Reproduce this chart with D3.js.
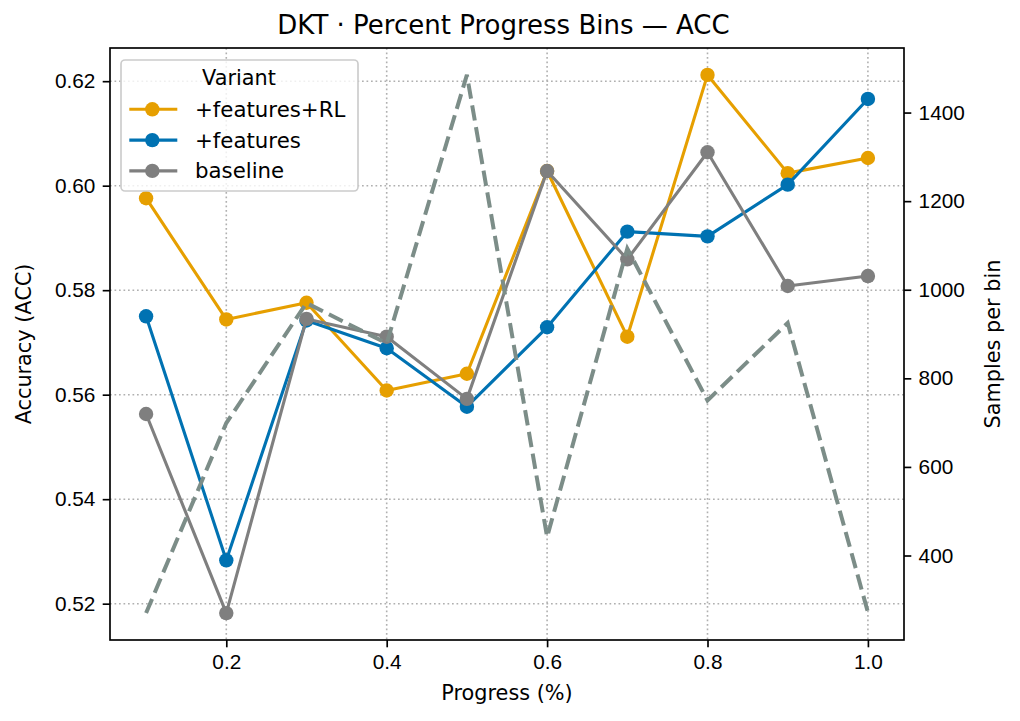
<!DOCTYPE html>
<html>
<head>
<meta charset="utf-8">
<script src="https://cdn.jsdelivr.net/npm/d3@7"></script>
<style>
  body { margin: 0; background: #fff; }
  svg { font-family: "DejaVu Sans", sans-serif; }
</style>
</head>
<body>
<svg id="chart"></svg>
<script>
// Data
const progress = [0.1, 0.2, 0.3, 0.4, 0.5, 0.6, 0.7, 0.8, 0.9, 1.0];
const accFeaturesRL = [0.5976, 0.5744, 0.5776, 0.5608, 0.5640, 0.6028, 0.5711, 0.6212, 0.6024, 0.6053];
const accFeatures = [0.5750, 0.5283, 0.5742, 0.5689, 0.5577, 0.5729, 0.5912, 0.5903, 0.6002, 0.6166];
const accBaseline = [0.5563, 0.5182, 0.5745, 0.5711, 0.5592, 0.6028, 0.5859, 0.6064, 0.5808, 0.5827];
const samplesPerBin = [270, 699, 970, 879, 1485, 442, 1093, 750, 925, 272];

const variantNames = ["+features+RL", "+features", "baseline"];
const variantColors = ["#E69F00", "#0072B2", "#7F7F7F"];

const xTicks = [0.2, 0.4, 0.6, 0.8, 1.0];
const yTicks = [0.52, 0.54, 0.56, 0.58, 0.60, 0.62];
const y2Ticks = [400, 600, 800, 1000, 1200, 1400];

const W = 1020, H = 721;
const margin = { top: 48, right: 116, bottom: 81, left: 110 };
const width = W - margin.left - margin.right;
const height = H - margin.top - margin.bottom;

const svg = d3.select("#chart").attr("width", W).attr("height", H);
const g = svg.append("g").attr("transform", "translate(" + margin.left + "," + margin.top + ")");

// matplotlib-like 5% margins
function padded(vals) {
    const lo = d3.min(vals), hi = d3.max(vals), pad = (hi - lo) * 0.05;
    return [lo - pad, hi + pad];
}

const x = d3.scaleLinear().domain(padded(progress)).range([0, width]);
const y = d3.scaleLinear()
    .domain(padded(accFeaturesRL.concat(accFeatures, accBaseline)))
    .range([height, 0]);
const y2 = d3.scaleLinear().domain(padded(samplesPerBin)).range([height, 0]);

const series = [accFeaturesRL, accFeatures, accBaseline];

// Grid (dotted)
const grid = g.append("g").attr("stroke", "#b0b0b0").attr("stroke-width", 1.6)
    .attr("stroke-dasharray", "1.7,2.8");
grid.selectAll(".gx").data(xTicks).enter().append("line")
    .attr("x1", d => x(d)).attr("x2", d => x(d)).attr("y1", 0).attr("y2", height);
grid.selectAll(".gy").data(yTicks).enter().append("line")
    .attr("x1", 0).attr("x2", width).attr("y1", d => y(d)).attr("y2", d => y(d));

// Lines with markers
const line = d3.line().x((d, i) => x(progress[i])).y(d => y(d));
series.forEach((s, k) => {
    g.append("path").datum(s)
        .attr("fill", "none")
        .attr("stroke", variantColors[k])
        .attr("stroke-width", 3.1)
        .attr("stroke-linejoin", "round")
        .attr("d", line);
    g.selectAll(".m" + k).data(s).enter().append("circle")
        .attr("cx", (d, i) => x(progress[i]))
        .attr("cy", d => y(d))
        .attr("r", 7.2)
        .attr("fill", variantColors[k]);
});

// Samples per bin (twin axis, dashed)
const line2 = d3.line().x((d, i) => x(progress[i])).y(d => y2(d));
g.append("path").datum(samplesPerBin)
    .attr("fill", "none")
    .attr("stroke", "#7c8d88")
    .attr("stroke-width", 4)
    .attr("stroke-dasharray", "15.4,6.7")
    .attr("d", line2);

// Axes
function styleAxis(sel) {
    sel.select(".domain").remove();
    sel.selectAll(".tick line").attr("stroke", "#000").attr("stroke-width", 1.67);
    sel.selectAll(".tick text").attr("fill", "#000").style("font-size", "20.8px");
}

g.append("g")
    .attr("transform", "translate(0," + height + ")")
    .call(d3.axisBottom(x).tickValues(xTicks).tickFormat(d3.format(".1f")).tickSize(7.3).tickPadding(7))
    .call(styleAxis);

g.append("g")
    .call(d3.axisLeft(y).tickValues(yTicks).tickFormat(d3.format(".2f")).tickSize(7.3).tickPadding(7.3))
    .call(styleAxis);

g.append("g")
    .attr("transform", "translate(" + width + ",0)")
    .call(d3.axisRight(y2).tickValues(y2Ticks).tickFormat(d3.format("d")).tickSize(7.3).tickPadding(7.3))
    .call(styleAxis);

// Frame
g.append("rect")
    .attr("width", width).attr("height", height)
    .attr("fill", "none").attr("stroke", "#000").attr("stroke-width", 1.67);

// Labels
svg.append("text")
    .attr("x", 503.5).attr("y", 34.3)
    .attr("text-anchor", "middle")
    .style("font-size", "26px")
    .text("DKT · Percent Progress Bins — ACC");

svg.append("text")
    .attr("x", margin.left + width / 2).attr("y", 700)
    .attr("text-anchor", "middle")
    .style("font-size", "20.8px")
    .text("Progress (%)");

svg.append("text")
    .attr("transform", "translate(31," + (margin.top + height / 2) + ") rotate(-90)")
    .attr("text-anchor", "middle")
    .style("font-size", "20.8px")
    .text("Accuracy (ACC)");

svg.append("text")
    .attr("transform", "translate(1000," + (margin.top + height / 2) + ") rotate(-90)")
    .attr("text-anchor", "middle")
    .style("font-size", "20.8px")
    .text("Samples per bin");

// Legend
const lg = svg.append("g").attr("transform", "translate(121,60)");
lg.append("rect")
    .attr("width", 237).attr("height", 131)
    .attr("rx", 4)
    .attr("fill", "#fff").attr("fill-opacity", 0.8)
    .attr("stroke", "#cccccc").attr("stroke-width", 1.67);
lg.append("text")
    .attr("x", 118).attr("y", 25)
    .attr("text-anchor", "middle")
    .style("font-size", "20.8px")
    .text("Variant");
variantNames.forEach((name, k) => {
    const ry = 49.3 + k * 30.8;
    lg.append("line")
        .attr("x1", 8.3).attr("x2", 56.3).attr("y1", ry).attr("y2", ry)
        .attr("stroke", variantColors[k]).attr("stroke-width", 3.1);
    lg.append("circle")
        .attr("cx", 31.3).attr("cy", ry).attr("r", 7.2)
        .attr("fill", variantColors[k]);
    lg.append("text")
        .attr("x", 74).attr("y", ry)
        .attr("dy", "0.35em")
        .style("font-size", "21.3px")
        .text(name);
});
</script>
</body>
</html>
